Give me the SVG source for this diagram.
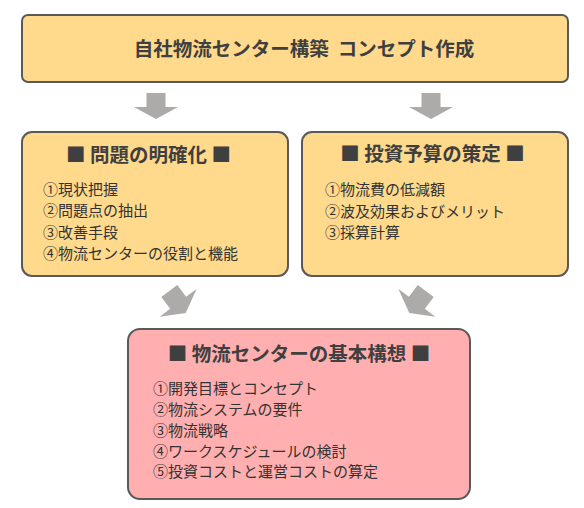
<svg xmlns="http://www.w3.org/2000/svg" width="584" height="508" viewBox="0 0 584 508">
<style>
.box{fill:#FFD98C;stroke:#595959;stroke-width:2}
.pink{fill:#FFAFAF;stroke:#595959;stroke-width:2}
.arrow{fill:#ADAAAA}
.title{font-family:"Noto Sans CJK JP","Noto Sans",sans-serif;font-weight:bold;fill:#3F3F3F;text-anchor:middle}
.body{font-family:"Noto Sans CJK JP","Noto Sans",sans-serif;font-size:15px;fill:#333333}
</style>
<defs>
<polygon id="arr" points="-9.5,-13 9.5,-13 9.5,1 22,1 0,13 -22,1 -9.5,1"/>
</defs>
<rect width="584" height="508" fill="#FFFFFF"/>
<g id="connectors">
<use href="#arr" class="arrow" transform="translate(156,106)"/>
<use href="#arr" class="arrow" transform="translate(431,106)"/>
<use href="#arr" class="arrow" transform="translate(177.5,302) rotate(-37) scale(1.05)"/>
<use href="#arr" class="arrow" transform="translate(417.5,302) rotate(37) scale(1.05)"/>
</g>
<g id="node-top">
<rect class="box" x="22" y="15" width="546" height="67" rx="6"/>
<text class="title" x="304" y="55.5" font-size="19.5" xml:space="preserve">自社物流センター構築  コンセプト作成</text>
</g>
<g id="node-problem">
<rect class="box" x="22" y="132" width="266" height="144" rx="10"/>
<text class="title" x="148.5" y="161.5" font-size="19.5" xml:space="preserve">■ 問題の明確化 ■</text>
<text class="body" x="43" y="194.5">①現状把握</text>
<text class="body" x="43" y="216">②問題点の抽出</text>
<text class="body" x="43" y="237.5">③改善手段</text>
<text class="body" x="43" y="259">④物流センターの役割と機能</text>
</g>
<g id="node-budget">
<rect class="box" x="302" y="132" width="266" height="144" rx="10"/>
<text class="title" x="432.5" y="161" font-size="19.5" xml:space="preserve">■ 投資予算の策定 ■</text>
<text class="body" x="325" y="195">①物流費の低減額</text>
<text class="body" x="325" y="216.5">②波及効果およびメリット</text>
<text class="body" x="325" y="238">③採算計算</text>
</g>
<g id="node-concept">
<rect class="pink" x="128" y="329" width="342" height="170" rx="12"/>
<text class="title" x="299" y="361" font-size="19.5" xml:space="preserve">■ 物流センターの基本構想 ■</text>
<text class="body" x="153" y="394">①開発目標とコンセプト</text>
<text class="body" x="153" y="415">②物流システムの要件</text>
<text class="body" x="153" y="436">③物流戦略</text>
<text class="body" x="153" y="456.5">④ワークスケジュールの検討</text>
<text class="body" x="153" y="477">⑤投資コストと運営コストの算定</text>
</g>
</svg>
